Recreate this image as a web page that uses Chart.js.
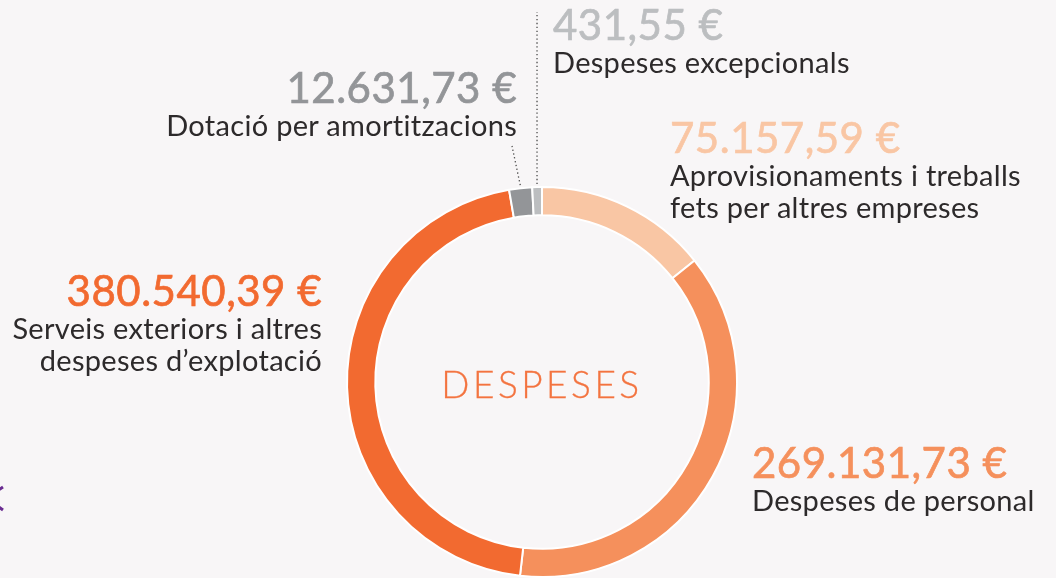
<!DOCTYPE html>
<html lang="ca">
<head>
<meta charset="utf-8">
<title>Despeses</title>
<script src="https://cdn.jsdelivr.net/npm/chart.js@4.4.1/dist/chart.umd.min.js"></script>
<style>
    html, body { margin: 0; padding: 0; }
    body {
        width: 1056px;
        height: 578px;
        overflow: hidden;
        position: relative;
        background: #f8f6f7;
        font-family: Lato, "Open Sans", sans-serif;
    }
    #despeses-chart { position: absolute; left: 0; top: 0; }
    .label { position: absolute; white-space: nowrap; }
    .label.right { text-align: right; }
    .label .value {
        font-size: 42px;
        line-height: 40px;
        font-weight: 400;
        letter-spacing: 0.5px;
        -webkit-text-stroke: 0.7px currentColor;
    }
    .label .text { font-size: 29px; line-height: 28px; color: #2d2a2b; margin-top: 4px; letter-spacing: 0.3px; }
    #centre {
        position: absolute;
        left: 342px;
        width: 400px;
        top: 361px;
        text-align: center;
        font-size: 37px;
        font-weight: 300;
        letter-spacing: 3.5px;
        color: #f37440;
        -webkit-text-stroke: 0.3px currentColor;
    }
    #chevron { position: absolute; left: 0; top: 478px; }
</style>
</head>
<body>
<canvas id="despeses-chart" width="1056" height="578"></canvas>
<div id="centre">DESPESES</div>
<svg id="chevron" width="10" height="42">
    <polyline points="3,9 -14,20 3,32" fill="none" stroke="#6a2c91" stroke-width="3"/>
</svg>

<script>
// Categories (clockwise from the top)
const categories = [
    'Aprovisionaments i treballs\nfets per altres empreses',
    'Despeses de personal',
    'Serveis exteriors i altres\ndespeses d\u2019explotació',
    'Dotació per amortitzacions',
    'Despeses excepcionals'
];

// Amounts printed on the chart (euros)
const amounts = [75157.59, 269131.73, 380540.39, 12631.73, 431.55];

// Share of the ring each slice takes in the picture (%)
const arcShares = [14.3, 37.5, 45.5, 1.9, 0.8];

const sliceColors = ['#f9c6a4', '#f5905c', '#f26a30', '#939598', '#bcbec0'];

// Where each label sits: anchor x, baseline of the amount, alignment
const labelLayout = [
    { x: 670, base: 153, align: 'left' },
    { x: 752, base: 478, align: 'left' },
    { x: 321, base: 306, align: 'right' },
    { x: 516, base: 103, align: 'right' },
    { x: 553, base: 40, align: 'left' }
];

// End points of the dotted leader lines (only the two thin slices)
const leaderEnds = { 3: { x: 512, y: 146 }, 4: { x: null, y: 12 } };

function formatEuro(value) {
    const parts = value.toFixed(2).split('.');
    const intPart = parts[0].replace(/\B(?=(\d{3})+(?!\d))/g, '.');
    return intPart + ',' + parts[1] + ' \u20AC';
}

// Labels as HTML text
categories.forEach((cat, i) => {
    const lay = labelLayout[i];
    const div = document.createElement('div');
    div.className = 'label ' + lay.align;
    // baseline sits about 36px under the top of the 40px line
    div.style.top = (lay.base - 36) + 'px';
    if (lay.align === 'left') {
        div.style.left = lay.x + 'px';
    } else {
        div.style.right = (1056 - lay.x - 1) + 'px';
    }
    const val = document.createElement('div');
    val.className = 'value';
    val.style.color = sliceColors[i];
    val.textContent = formatEuro(amounts[i]);
    div.appendChild(val);
    cat.split('\n').forEach(line => {
        const t = document.createElement('div');
        t.className = 'text';
        t.textContent = line;
        div.appendChild(t);
    });
    document.body.appendChild(div);
});

// Dotted leader lines from the middle of the slice outwards
const leaderPlugin = {
    id: 'leaders',
    afterDatasetsDraw(chart) {
        const ctx = chart.ctx;
        const arcs = chart.getDatasetMeta(0).data;
        ctx.save();
        ctx.strokeStyle = '#4a4a4a';
        ctx.lineWidth = 1.3;
        ctx.setLineDash([1.3, 2.6]);
        Object.keys(leaderEnds).forEach(key => {
            const arc = arcs[key];
            const p = arc.getProps(['x', 'y', 'startAngle', 'endAngle', 'outerRadius'], true);
            const mid = (p.startAngle + p.endAngle) / 2;
            const sx = p.x + Math.cos(mid) * (p.outerRadius + 3);
            const sy = p.y + Math.sin(mid) * (p.outerRadius + 3);
            const end = leaderEnds[key];
            ctx.beginPath();
            ctx.moveTo(sx, sy);
            ctx.lineTo(end.x === null ? sx : end.x, end.y);
            ctx.stroke();
        });
        ctx.restore();
    }
};

const ctx = document.getElementById('despeses-chart');
new Chart(ctx, {
    type: 'doughnut',
    data: {
        labels: categories,
        datasets: [{
            data: arcShares,
            backgroundColor: sliceColors,
            borderColor: '#ffffff',
            borderWidth: 2,
            hoverOffset: 0
        }]
    },
    options: {
        responsive: false,
        devicePixelRatio: 1,
        animation: false,
        cutout: '85.5%',
        layout: {
            padding: { left: 346, right: 318, top: 186, bottom: 0 }
        },
        plugins: {
            legend: { display: false },
            tooltip: { enabled: false }
        },
        events: []
    },
    plugins: [leaderPlugin]
});
</script>
</body>
</html>
